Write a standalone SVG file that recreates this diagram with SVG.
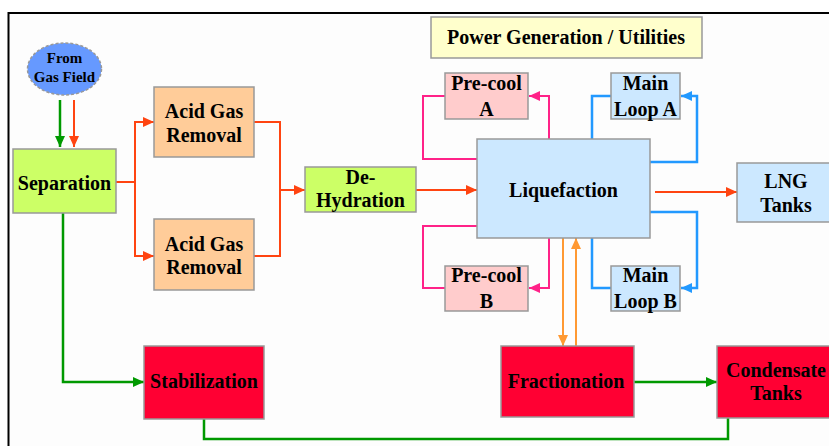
<svg xmlns="http://www.w3.org/2000/svg" width="829" height="446" viewBox="0 0 829 446">
<style>
.t{font-family:"Liberation Serif","Times New Roman",serif;font-weight:bold;font-size:20px;fill:#000;text-anchor:middle}
.s{font-size:15px}
.n{stroke:#999;stroke-width:1.5}
.c{fill:none;stroke-linejoin:miter}
.red{stroke:#FF4411;stroke-width:2}
.grn{stroke:#009900;stroke-width:2.5}
.pnk{stroke:#FF2288;stroke-width:2}
.blu{stroke:#2299FF;stroke-width:2.5}
.org{stroke:#FF9933;stroke-width:2}
</style>
<defs>
<marker id="aR" markerUnits="userSpaceOnUse" markerWidth="12" markerHeight="10" refX="11" refY="5" orient="auto"><path d="M0,0 L11,5 L0,10 Z" fill="#FF4411"/></marker>
<marker id="aG" markerUnits="userSpaceOnUse" markerWidth="12" markerHeight="10" refX="11" refY="5" orient="auto"><path d="M0,0 L11,5 L0,10 Z" fill="#009900"/></marker>
<marker id="aP" markerUnits="userSpaceOnUse" markerWidth="12" markerHeight="10" refX="11" refY="5" orient="auto"><path d="M0,0 L11,5 L0,10 Z" fill="#FF2288"/></marker>
<marker id="aB" markerUnits="userSpaceOnUse" markerWidth="12" markerHeight="10" refX="11" refY="5" orient="auto"><path d="M0,0 L11,5 L0,10 Z" fill="#2299FF"/></marker>
<marker id="aO" markerUnits="userSpaceOnUse" markerWidth="12" markerHeight="10" refX="11" refY="5" orient="auto"><path d="M0,0 L11,5 L0,10 Z" fill="#FF9933"/></marker>
</defs>
<rect x="0" y="0" width="829" height="446" fill="#FFFFFF"/>
<rect x="8.5" y="13" width="840" height="460" fill="#FDFDFD" stroke="#000" stroke-width="2"/>

<g id="connectors">
<path class="c grn" d="M60,100 V147" marker-end="url(#aG)"/>
<path class="c red" d="M74,100 V147" marker-end="url(#aR)"/>
<path class="c red" d="M116,182 H135 V122 H154" marker-end="url(#aR)"/>
<path class="c red" d="M135,182 V256 H154" marker-end="url(#aR)"/>
<path class="c red" d="M254,122 H280 V256 H254"/>
<path class="c red" d="M280,190 H305" marker-end="url(#aR)"/>
<path class="c red" d="M416,190 H477" marker-end="url(#aR)"/>
<path class="c pnk" d="M477,159 H423 V96 H445"/>
<path class="c pnk" d="M549,139 V96 H529" marker-end="url(#aP)"/>
<path class="c pnk" d="M477,226 H423 V288 H445"/>
<path class="c pnk" d="M549,238 V288 H529" marker-end="url(#aP)"/>
<path class="c blu" d="M592,139 V96 H611"/>
<path class="c blu" d="M650,162 H697 V96 H681" marker-end="url(#aB)"/>
<path class="c blu" d="M592,238 V288 H611"/>
<path class="c blu" d="M650,212 H697 V288 H681" marker-end="url(#aB)"/>
<path class="c org" d="M563,238 V346" marker-end="url(#aO)"/>
<path class="c org" d="M576,346 V238" marker-end="url(#aO)"/>
<path class="c red" d="M655,192 H737" marker-end="url(#aR)"/>
<path class="c grn" d="M63,213 V382 H144" marker-end="url(#aG)"/>
<path class="c grn" d="M634,382 H717" marker-end="url(#aG)"/>
<path class="c grn" d="M204,419 V439 H728 V418"/>
</g>

<g id="gasfield"><ellipse cx="64.5" cy="69" rx="37" ry="26" fill="#6699FF" stroke="#999" stroke-width="1.5" stroke-dasharray="3,2"/><text class="t s" x="64.5" y="63">From</text><text class="t s" x="64.5" y="82">Gas Field</text></g>
<g id="separation"><rect class="n" x="13" y="149" width="103" height="64" fill="#CCFF66"/><text class="t" x="64.5" y="190">Separation</text></g>
<g id="acidgas1"><rect class="n" x="154" y="87" width="100" height="70" fill="#FFCC99"/><text class="t" x="204" y="118">Acid Gas</text><text class="t" x="204" y="142">Removal</text></g>
<g id="acidgas2"><rect class="n" x="154" y="219" width="100" height="71" fill="#FFCC99"/><text class="t" x="204" y="251">Acid Gas</text><text class="t" x="204" y="274">Removal</text></g>
<g id="dehydration"><rect class="n" x="305" y="167" width="111" height="45" fill="#CCFF66"/><text class="t" x="360.5" y="184">De-</text><text class="t" x="360.5" y="207">Hydration</text></g>
<g id="power"><rect class="n" x="431" y="17" width="271" height="41" fill="#FFFFCC"/><text class="t" x="566" y="44">Power Generation / Utilities</text></g>
<g id="precoolA"><rect class="n" x="445" y="73" width="83" height="46" fill="#FFCCCC"/><text class="t" x="486.5" y="90">Pre-cool</text><text class="t" x="486.5" y="116">A</text></g>
<g id="mainloopA"><rect class="n" x="611" y="73" width="69" height="46" fill="#CCE8FF"/><text class="t" x="645.5" y="90">Main</text><text class="t" x="645.5" y="116">Loop A</text></g>
<g id="liquefaction"><rect class="n" x="477" y="139" width="173" height="99" fill="#CCE8FF"/><text class="t" x="563.5" y="197">Liquefaction</text></g>
<g id="lngtanks"><rect class="n" x="737" y="163" width="98" height="59" fill="#CCE8FF"/><text class="t" x="786" y="188">LNG</text><text class="t" x="786" y="212">Tanks</text></g>
<g id="precoolB"><rect class="n" x="445" y="266" width="83" height="45" fill="#FFCCCC"/><text class="t" x="486.5" y="282">Pre-cool</text><text class="t" x="486.5" y="308">B</text></g>
<g id="mainloopB"><rect class="n" x="611" y="266" width="69" height="45" fill="#CCE8FF"/><text class="t" x="645.5" y="282">Main</text><text class="t" x="645.5" y="308">Loop B</text></g>
<g id="stabilization"><rect class="n" x="144" y="346" width="120" height="73" fill="#FF0033"/><text class="t" x="204" y="388">Stabilization</text></g>
<g id="fractionation"><rect class="n" x="501" y="346" width="133" height="71" fill="#FF0033"/><text class="t" x="566" y="388">Fractionation</text></g>
<g id="condensate"><rect class="n" x="717" y="346" width="118" height="72" fill="#FF0033"/><text class="t" x="776" y="377">Condensate</text><text class="t" x="776" y="400">Tanks</text></g>
</svg>
